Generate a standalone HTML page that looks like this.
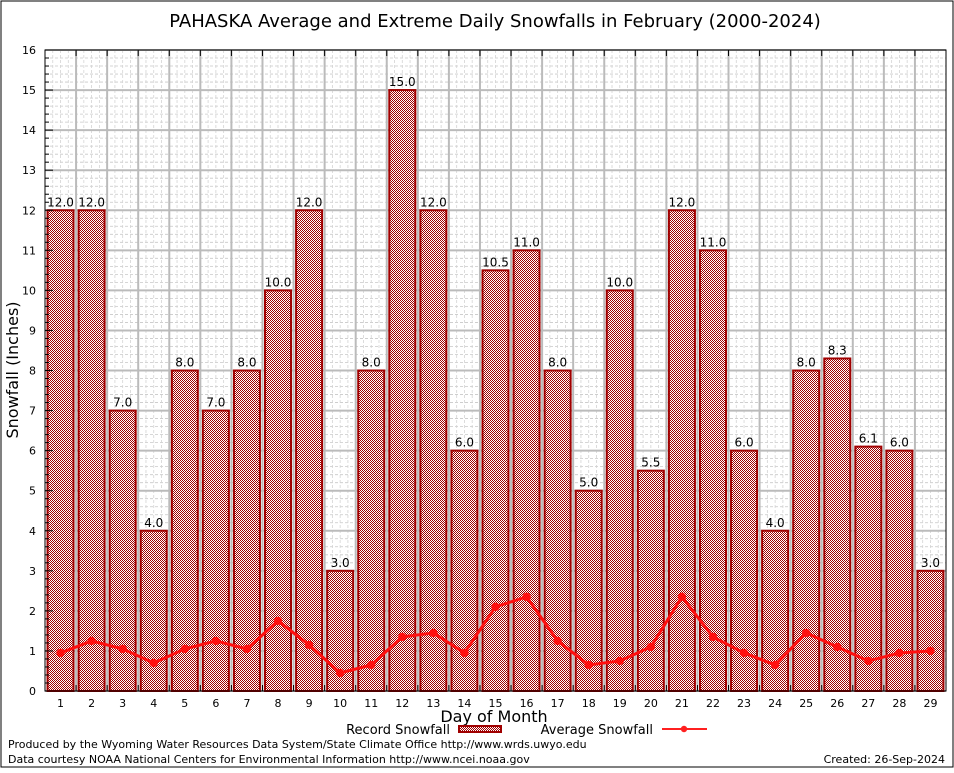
<!DOCTYPE html>
<html><head><meta charset="utf-8"><style>
body{margin:0;background:#fff;}
svg text{font-family:"DejaVu Sans","Liberation Sans",sans-serif;}
</style></head><body>
<svg id="chart" width="954" height="768" xmlns="http://www.w3.org/2000/svg">
<defs>
<pattern id="chk" width="2" height="2" patternUnits="userSpaceOnUse">
<rect width="2" height="2" fill="#fff"/>
<rect width="1" height="1" fill="#a00000"/>
<rect x="1" y="1" width="1" height="1" fill="#a00000"/>
</pattern>
</defs>
<rect x="1" y="1" width="952" height="766" fill="#fff" stroke="#000"/>
<text x="495" y="27" font-size="18" text-anchor="middle">PAHASKA Average and Extreme Daily Snowfalls in February (2000-2024)</text>
<g id="grid"></g>
<g id="bars"></g>
<g id="avg"></g>
<rect x="45" y="50" width="901" height="641" fill="none" stroke="#000"/>
<g id="axes"></g>
<text transform="translate(18,370) rotate(-90)" font-size="16" text-anchor="middle">Snowfall (Inches)</text>
<text x="494" y="722" font-size="16" text-anchor="middle">Day of Month</text>
<g>
<text x="450" y="734" font-size="13" text-anchor="end">Record Snowfall</text>
<rect x="459" y="726" width="42" height="6" fill="url(#chk)" stroke="#a00000" stroke-width="2"/>
</g>
<g>
<text x="653" y="734" font-size="13" text-anchor="end">Average Snowfall</text>
<line x1="662" y1="729" x2="707" y2="729" stroke="#ff2020" stroke-width="2"/>
<circle cx="684" cy="729" r="3.2" fill="#ff2020"/>
</g>
<text x="8" y="748" font-size="11">Produced by the Wyoming Water Resources Data System/State Climate Office http://www.wrds.uwyo.edu</text>
<text x="8" y="763" font-size="11">Data courtesy NOAA National Centers for Environmental Information http://www.ncei.noaa.gov</text>
<text x="945" y="763" font-size="11" text-anchor="end">Created:  26-Sep-2024</text>
</svg>
<script>
const days=[1,2,3,4,5,6,7,8,9,10,11,12,13,14,15,16,17,18,19,20,21,22,23,24,25,26,27,28,29];
const recordValues=[12.0,12.0,7.0,4.0,8.0,7.0,8.0,10.0,12.0,3.0,8.0,15.0,12.0,6.0,10.5,11.0,8.0,5.0,10.0,5.5,12.0,11.0,6.0,4.0,8.0,8.3,6.1,6.0,3.0];
const averageValues=[0.95,1.25,1.05,0.7,1.05,1.25,1.05,1.75,1.15,0.45,0.65,1.35,1.45,0.95,2.1,2.35,1.25,0.65,0.75,1.1,2.35,1.35,0.95,0.65,1.45,1.1,0.75,0.95,1.0];
const yTicks=[0,1,2,3,4,5,6,7,8,9,10,11,12,13,14,15,16];
const NS="http://www.w3.org/2000/svg";
const X0=45,X1=946,Y0=691,Y1=50,YMAX=16;
const step=(X1-X0)/days.length;
const xc=i=>X0+step*(i+0.5);
const y=v=>Y0-(v/YMAX)*(Y0-Y1);
function mk(tag,attrs,parent){const e=document.createElementNS(NS,tag);for(const k in attrs)e.setAttribute(k,attrs[k]);parent.appendChild(e);return e;}
const grid=document.getElementById('grid'),bars=document.getElementById('bars'),avg=document.getElementById('avg'),axes=document.getElementById('axes');
for(let v=0;v<=YMAX;v+=0.2){mk('line',{x1:X0,x2:X1,y1:y(v),y2:y(v),stroke:'#c8c8c8','stroke-dasharray':'3,2','stroke-width':0.8},grid);}
for(let i=0;i<days.length;i++){for(let k=1;k<4;k++){const xx=X0+step*i+step*k/4;mk('line',{x1:xx,x2:xx,y1:Y1,y2:Y0,stroke:'#d4d4d4','stroke-dasharray':'3,2','stroke-width':0.8},grid);}}
yTicks.forEach(v=>{const l=mk('line',{x1:X0,x2:X1,y1:y(v),y2:y(v),stroke:'#bbb','stroke-width':2},grid);


const t=mk('text',{x:X0-9,y:y(v)+4,'font-size':11,'text-anchor':'end','font-family':'Liberation Serif,serif'},axes);t.textContent=v;


mk('line',{x1:X0,x2:X0+8,y1:y(v),y2:y(v),stroke:'#000'},axes);
if(v<YMAX){for(let k=1;k<5;k++){const yy=y(v+k*0.2);mk('line',{x1:X0,x2:X0+4,y1:yy,y2:yy,stroke:'#000'},axes);}}
});
for(let i=1;i<days.length;i++){const xx=X0+step*i;mk('line',{x1:xx,x2:xx,y1:Y1,y2:Y0,stroke:'#bbb','stroke-width':2},grid);
mk('line',{x1:xx,x2:xx,y1:Y1,y2:Y1+6,stroke:'#000'},axes);mk('line',{x1:xx,x2:xx,y1:Y0,y2:Y0-6,stroke:'#000'},axes);}
const bw=26;
days.forEach((d,i)=>{const v=recordValues[i];
const r=mk('rect',{x:xc(i)-bw/2,y:y(v),width:bw,height:Y0-y(v),fill:'url(#chk)',stroke:'#a00000','stroke-width':2},bars);


const t=mk('text',{x:xc(i),y:y(v)-4,'font-size':12,'text-anchor':'middle'},bars);t.textContent=v.toFixed(1);


const xl=mk('text',{x:xc(i),y:Y0+16,'font-size':11,'text-anchor':'middle','font-family':'Liberation Serif,serif'},axes);xl.textContent=d;


});
const pts=averageValues.map((v,i)=>xc(i)+','+y(v)).join(' ');
const pl=mk('polyline',{points:pts,fill:'none',stroke:'#ff1010','stroke-width':3},avg);


averageValues.forEach((v,i)=>{const c=mk('circle',{cx:xc(i),cy:y(v),r:4.2,fill:'#ff1010'},avg);

});
</script>
</body></html>
